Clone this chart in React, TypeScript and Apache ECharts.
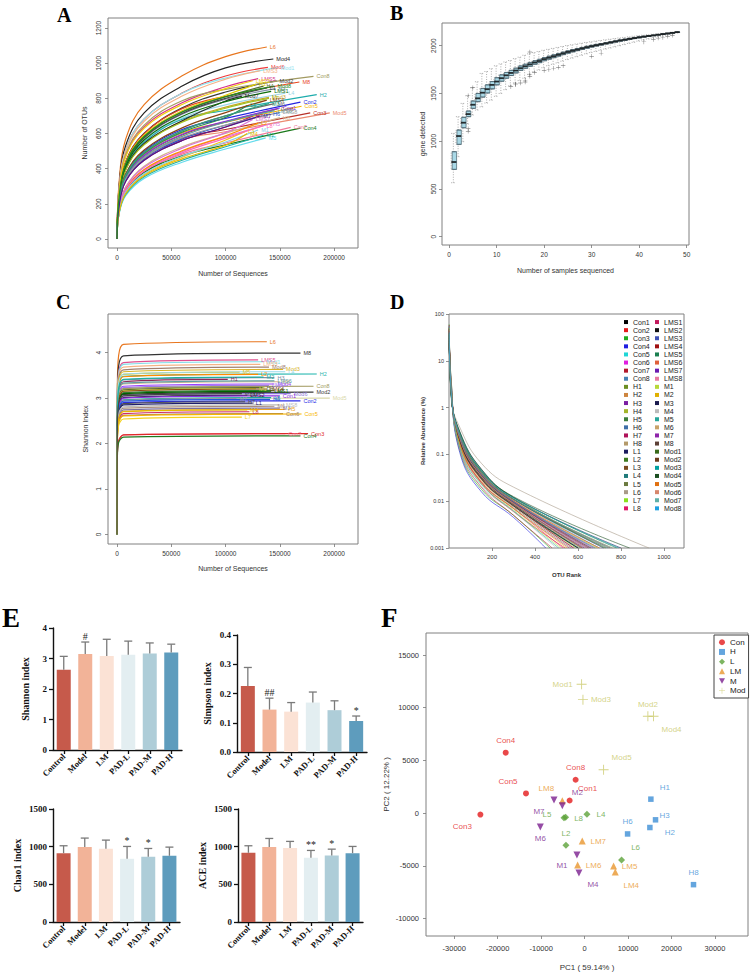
import { useEffect, useRef } from "react";
import * as echarts from "echarts";

const SANS = "'Liberation Sans', Arial, Helvetica, sans-serif";
const SERIF = "'Liberation Serif', 'Times New Roman', serif";

// ---------------- A: OTU rarefaction curves ----------------
const A_SAMPLES = ["L6", "Mod4", "Mod6", "Mod1", "LMS3", "LMS5", "Mod2", "Con8", "M8", "H3", "L4", "H2", "Mod3", "Mod7", "Con2", "Con5", "Con3", "Mod5", "H6", "Con6", "M6", "H5", "Con7", "Con4", "L3", "M5", "M2", "L7", "Con1", "H1", "H4", "H7", "H8", "L1", "L2", "L5", "L8", "LMS1", "LMS2", "LMS4", "LMS6", "LMS7", "LMS8", "M1", "M3", "M4", "M7", "Mod8"];
const A_STEPS = [2000, 8000, 25000, 60000, 100000];
const A_OTUS = [
  [328, 568, 764, 928, 1037], [307, 532, 717, 870, 973], [293, 508, 683, 830, 927], [293, 507, 683, 829, 916],
  [287, 498, 670, 813, 909], [274, 474, 638, 775, 866], [252, 440, 602, 746, 836], [278, 481, 648, 786, 851],
  [250, 438, 598, 741, 812], [239, 419, 573, 710, 795], [232, 406, 555, 688, 763], [230, 402, 550, 681, 731],
  [226, 395, 540, 669, 750], [227, 397, 543, 673, 785], [210, 366, 499, 623, 686], [204, 355, 483, 604, 665],
  [194, 337, 459, 574, 623], [194, 337, 459, 566, 610], [192, 334, 455, 569, 647], [200, 348, 474, 592, 666],
  [208, 362, 493, 616, 700], [164, 281, 392, 497, 582], [159, 273, 381, 483, 546], [158, 271, 379, 473, 536],
  [153, 263, 367, 465, 563], [144, 247, 345, 437, 512], [148, 254, 354, 448, 525], [224, 392, 536, 664, 744],
  [201, 350, 477, 596, 670], [246, 431, 590, 730, 818], [244, 426, 583, 722, 809], [189, 329, 448, 560, 637],
  [173, 297, 414, 524, 601], [241, 421, 576, 714, 800], [165, 284, 396, 502, 587], [205, 357, 486, 608, 692],
  [161, 277, 387, 490, 574], [235, 412, 563, 697, 781], [270, 468, 630, 765, 855], [213, 371, 506, 632, 719],
  [197, 343, 467, 584, 664], [170, 292, 408, 517, 605], [194, 338, 461, 576, 648], [155, 267, 372, 471, 552],
  [208, 362, 493, 616, 701], [150, 258, 360, 456, 534], [189, 329, 448, 560, 637], [244, 426, 583, 722, 809],
];
const A_LAST_SEQ = [138000, 144000, 139000, 148000, 132000, 130000, 147000, 181000, 168000, 146000, 155000, 184000, 140000, 115000, 169000, 170000, 178000, 196000, 141000, 148000, 145000, 141000, 160000, 169000, 118000, 137000, 135000, 140000, 150000, 128000, 135000, 125000, 150000, 138000, 130000, 120000, 135000, 142000, 125000, 138000, 145000, 125000, 150000, 130000, 140000, 120000, 132000, 145000];
const A_LAST_OTU = [1092, 1024, 976, 975, 957, 912, 899, 925, 893, 855, 829, 821, 806, 811, 779, 755, 717, 717, 711, 740, 770, 654, 635, 631, 612, 575, 590, 800, 745, 880, 870, 700, 690, 860, 660, 760, 645, 840, 900, 790, 730, 680, 720, 620, 770, 600, 700, 870];
const A_COLORS = ["#e8761e", "#222222", "#ef3b3b", "#8fe3f0", "#f5b287", "#d6338a", "#3a3a3a", "#a39b62", "#e8461f", "#8292a8", "#9ad6e8", "#1fadad", "#c9a227", "#2d2d2d", "#2626e0", "#f5b400", "#b8322a", "#ec8a70", "#2457d6", "#a0603a", "#6d6d6d", "#e07ad8", "#f27a9c", "#1c7a1c", "#f0c419", "#66dced", "#22b0a0", "#a3c423", "#8b2be2", "#e0cf00", "#566b2f", "#c2185b", "#d2b48c", "#474747", "#ff8c00", "#2e8b57", "#ff69b4", "#0a6e0a", "#f2cf10", "#8b4513", "#5f9ea0", "#da70d6", "#9c9c9c", "#87ceeb", "#2f9f7f", "#e6b800", "#4b1a8a", "#228b22"];

// ---------------- B: gene accumulation boxplots ----------------
// [min, Q1, median, Q3, max] for 1..48 samples
const B_STATS = [
  [565, 705, 782, 890, 1082], [838, 967, 1054, 1117, 1257], [995, 1141, 1194, 1250, 1396], [1180, 1257, 1284, 1316, 1476],
  [1274, 1344, 1382, 1421, 1560], [1326, 1414, 1449, 1500, 1623], [1360, 1462, 1508, 1553, 1710], [1400, 1505, 1545, 1590, 1730],
  [1430, 1548, 1590, 1625, 1760], [1470, 1590, 1625, 1665, 1790], [1500, 1628, 1660, 1695, 1810], [1540, 1660, 1690, 1720, 1830],
  [1580, 1688, 1715, 1742, 1845], [1610, 1715, 1740, 1765, 1865], [1635, 1742, 1765, 1788, 1880], [1660, 1764, 1785, 1806, 1900],
  [1700, 1785, 1805, 1825, 1915], [1725, 1806, 1825, 1843, 1928], [1745, 1823, 1840, 1858, 1940], [1770, 1843, 1860, 1876, 1952],
  [1790, 1859, 1875, 1890, 1962], [1805, 1875, 1890, 1905, 1972], [1820, 1891, 1905, 1919, 1982], [1838, 1907, 1920, 1933, 1992],
  [1855, 1922, 1935, 1947, 2002], [1870, 1936, 1948, 1960, 2010], [1885, 1949, 1960, 1971, 2018], [1900, 1962, 1972, 1982, 2026],
  [1915, 1974, 1984, 1994, 2034], [1928, 1986, 1995, 2004, 2041], [1940, 1997, 2005, 2014, 2048], [1952, 2007, 2015, 2023, 2055],
  [1965, 2018, 2025, 2032, 2062], [1976, 2028, 2035, 2042, 2068], [1988, 2038, 2045, 2051, 2075], [2000, 2048, 2055, 2061, 2081],
  [2012, 2057, 2063, 2069, 2087], [2024, 2066, 2072, 2077, 2093], [2036, 2075, 2080, 2085, 2099], [2048, 2083, 2088, 2093, 2105],
  [2060, 2091, 2095, 2099, 2110], [2070, 2098, 2102, 2106, 2115], [2080, 2105, 2108, 2111, 2120], [2090, 2112, 2115, 2118, 2125],
  [2100, 2119, 2122, 2125, 2130], [2110, 2125, 2128, 2131, 2135], [2120, 2132, 2135, 2137, 2140], [2135, 2140, 2142, 2144, 2146],
];
// [number of samples, genes]
const B_OUTLIERS = [
  [4, 1130], [4, 1105], [4, 1475], [5, 1560], [13, 1570], [14, 1590], [14, 1600], [15, 1610], [16, 1640], [16, 1620],
  [17, 1680], [17, 1700], [17, 1935], [18, 1720], [20, 1740], [21, 1750], [22, 1765], [23, 1775], [24, 1790], [30, 1890],
  [32, 1920], [41, 2040], [43, 2065], [44, 2080], [45, 2085], [46, 2100], [47, 2110],
];

// ---------------- C: Shannon rarefaction curves ----------------
const C_SAMPLES = ["L6", "M8", "LMS5", "Mod1", "LMS3", "Mod8", "Mod3", "M5", "H2", "H3", "H1", "Mod4", "LMS7", "Con8", "H4", "M1", "L3", "Mod2", "Mod6", "LMS2", "Mod5", "L5", "M7", "Con2", "H7", "L1", "M6", "M3", "H5", "L8", "Con6", "Con5", "L7", "Con7", "Con3", "Con4", "Con1", "H6", "H8", "L2", "L4", "LMS1", "LMS4", "LMS6", "LMS8", "M2", "M4", "Mod7"];
const C_STEPS = [300, 1500, 6000];
const C_EARLY = [
  [3.18, 3.94, 4.18], [2.99, 3.71, 3.93], [2.88, 3.57, 3.78], [2.85, 3.53, 3.74], [2.81, 3.48, 3.68], [2.76, 3.42, 3.62],
  [2.72, 3.38, 3.58], [2.68, 3.32, 3.52], [2.65, 3.28, 3.48], [2.59, 3.21, 3.40], [2.56, 3.17, 3.36], [2.48, 3.08, 3.26],
  [2.46, 3.05, 3.23], [2.45, 3.03, 3.21], [2.42, 3.00, 3.18], [2.41, 2.99, 3.16], [2.38, 2.95, 3.12], [2.35, 2.91, 3.08],
  [2.33, 2.88, 3.05], [2.30, 2.85, 3.01], [2.25, 2.79, 2.96], [2.26, 2.80, 2.96], [2.24, 2.78, 2.95], [2.21, 2.73, 2.90],
  [2.19, 2.72, 2.88], [2.17, 2.69, 2.85], [2.12, 2.62, 2.78], [2.09, 2.59, 2.74], [2.06, 2.56, 2.71], [2.03, 2.51, 2.66],
  [2.00, 2.47, 2.62], [1.99, 2.46, 2.61], [1.94, 2.40, 2.54], [1.67, 2.06, 2.19], [1.67, 2.06, 2.19], [1.63, 2.02, 2.14],
  [2.29, 2.84, 3.00], [2.23, 2.76, 2.93], [2.52, 3.12, 3.31], [2.64, 3.27, 3.47], [2.69, 3.33, 3.53], [2.36, 2.93, 3.10],
  [2.40, 2.98, 3.15], [2.54, 3.14, 3.33], [2.14, 2.65, 2.81], [2.60, 3.22, 3.41], [2.06, 2.55, 2.70], [2.33, 2.88, 3.05],
];
const C_LEVEL = [4.24, 3.99, 3.84, 3.80, 3.74, 3.68, 3.63, 3.57, 3.53, 3.45, 3.41, 3.31, 3.28, 3.26, 3.23, 3.21, 3.17, 3.13, 3.10, 3.06, 3.00, 3.01, 2.99, 2.94, 2.92, 2.89, 2.82, 2.78, 2.75, 2.70, 2.66, 2.65, 2.58, 2.22, 2.22, 2.17, 3.05, 2.97, 3.36, 3.52, 3.58, 3.15, 3.20, 3.38, 2.85, 3.46, 2.74, 3.10];
const C_LAST_SEQ = [138000, 169000, 130000, 135000, 132000, 140000, 153000, 113000, 184000, 145000, 102000, 145000, 140000, 181000, 135000, 128000, 145000, 181000, 160000, 120000, 196000, 142000, 110000, 169000, 118000, 125000, 145000, 150000, 155000, 122000, 153000, 170000, 115000, 155000, 176000, 169000, 150000, 141000, 150000, 130000, 155000, 142000, 138000, 145000, 150000, 135000, 120000, 115000];
const C_COLORS = ["#e8761e", "#333333", "#e0508f", "#7fdde8", "#f4b486", "#a08070", "#d8b428", "#e3c52a", "#1fb5ad", "#8090a8", "#8b2d5a", "#9a3dfc", "#9e7af0", "#a39b62", "#5a6b2f", "#c6d83a", "#3a7d3a", "#3a3a3a", "#8d79d9", "#222222", "#d9d7a8", "#1fa39a", "#9a9a9a", "#2b2be6", "#4d4d4d", "#1f1f6e", "#a88c7a", "#7a6fa0", "#eaa020", "#cc2a6b", "#9b7a5b", "#f7b500", "#f5d21f", "#f27da0", "#e02a2a", "#1f7a1f", "#8a2be2", "#2255dd", "#d2b48c", "#ff8c00", "#9ad9ea", "#006400", "#8b4513", "#5f9ea0", "#bbbbbb", "#20b0a0", "#e6b800", "#444444"];

// ---------------- D: rank abundance ----------------
const D_SAMPLES = ["Con1", "Con2", "Con3", "Con4", "Con5", "Con6", "Con7", "Con8", "H1", "H2", "H3", "H4", "H5", "H6", "H7", "H8", "L1", "L2", "L3", "L4", "L5", "L6", "L7", "L8", "LMS1", "LMS2", "LMS3", "LMS4", "LMS5", "LMS6", "LMS7", "LMS8", "M1", "M2", "M3", "M4", "M5", "M6", "M7", "M8", "Mod1", "Mod2", "Mod3", "Mod4", "Mod5", "Mod6", "Mod7", "Mod8"];
const D_RANKS = [1, 10, 50, 150, 300];
const D_ABUND = [
  [45, 2.5, 0.22, 0.035, 0.009], [50, 3.0, 0.18, 0.025, 0.006], [60, 4.0, 0.12, 0.018, 0.005], [55, 3.5, 0.11, 0.016, 0.0045],
  [40, 2.2, 0.25, 0.04, 0.011], [48, 2.8, 0.2, 0.03, 0.008], [58, 3.8, 0.13, 0.02, 0.005], [42, 2.4, 0.24, 0.038, 0.01],
  [38, 2.0, 0.27, 0.045, 0.012], [40, 2.2, 0.26, 0.042, 0.011], [44, 2.5, 0.23, 0.036, 0.0095], [41, 2.3, 0.25, 0.04, 0.01],
  [46, 2.6, 0.21, 0.033, 0.0085], [43, 2.4, 0.24, 0.037, 0.0095], [50, 3.0, 0.17, 0.026, 0.007], [44, 2.5, 0.22, 0.035, 0.009],
  [37, 2.0, 0.3, 0.048, 0.012], [47, 2.7, 0.2, 0.031, 0.008], [45, 2.6, 0.22, 0.034, 0.009], [39, 2.1, 0.27, 0.043, 0.011],
  [49, 2.9, 0.18, 0.029, 0.0075], [30, 1.6, 0.38, 0.065, 0.02], [47, 2.7, 0.2, 0.031, 0.008], [51, 3.1, 0.16, 0.025, 0.007],
  [43, 2.4, 0.23, 0.036, 0.0095], [46, 2.6, 0.21, 0.033, 0.0085], [40, 2.2, 0.26, 0.041, 0.011], [48, 2.8, 0.2, 0.03, 0.008],
  [38, 2.0, 0.28, 0.045, 0.012], [42, 2.3, 0.24, 0.039, 0.01], [45, 2.5, 0.22, 0.035, 0.009], [41, 2.3, 0.25, 0.04, 0.0105],
  [52, 3.2, 0.15, 0.024, 0.0065], [50, 3.0, 0.17, 0.027, 0.007], [47, 2.7, 0.2, 0.031, 0.008], [55, 3.4, 0.13, 0.021, 0.006],
  [53, 3.3, 0.14, 0.023, 0.0062], [44, 2.5, 0.22, 0.035, 0.009], [42, 2.3, 0.24, 0.038, 0.01], [39, 2.1, 0.27, 0.043, 0.0112],
  [40, 2.2, 0.26, 0.041, 0.0108], [43, 2.4, 0.23, 0.037, 0.0096], [38, 2.0, 0.29, 0.046, 0.0118], [36, 1.9, 0.31, 0.049, 0.0125],
  [41, 2.3, 0.25, 0.039, 0.0102], [45, 2.6, 0.22, 0.034, 0.0088], [39, 2.1, 0.27, 0.042, 0.011], [42, 2.4, 0.24, 0.038, 0.0098],
];
const D_LAST_RANK = [620, 540, 470, 450, 700, 580, 480, 660, 720, 760, 640, 690, 610, 650, 560, 630, 800, 600, 620, 740, 570, 930, 590, 530, 650, 600, 720, 580, 780, 680, 630, 700, 520, 550, 600, 500, 510, 640, 670, 750, 730, 660, 790, 840, 700, 620, 760, 680];
const D_COLORS = ["#000000", "#e41a1c", "#1faa1f", "#1f1fe0", "#1fd6d6", "#e01fe0", "#b2182b", "#4682b4", "#6b8e23", "#cd853f", "#7b1fa2", "#a3b52b", "#3b7d3b", "#3f6fa8", "#b0135a", "#b49a6a", "#1a1a5e", "#3d7a1f", "#7a4a1f", "#1f7a7a", "#6b7a3f", "#a89a88", "#8ae01f", "#e0186a", "#c2185b", "#111111", "#3f51b5", "#a01010", "#1b7f4f", "#e0603a", "#6a1bb0", "#e87aa0", "#b8d838", "#e0b000", "#1a1a4e", "#bbbbbb", "#26a69a", "#c8a26a", "#8e24aa", "#5d4037", "#3a6a1a", "#6d3b1b", "#00a0a0", "#1b4e20", "#e07010", "#d7866b", "#5fb0a8", "#1fa0e0"];

// ---------------- E: alpha diversity indices ----------------
const E_GROUPS = ["Control", "Model", "LM", "PAD-L", "PAD-M", "PAD-H"];
const SHANNON_MEAN = [2.63, 3.15, 3.08, 3.12, 3.16, 3.2];
const SHANNON_SD = [0.44, 0.39, 0.55, 0.45, 0.35, 0.27];
const SHANNON_MARK = ["", "#", "", "", "", ""];
const SIMPSON_MEAN = [0.226, 0.145, 0.138, 0.169, 0.143, 0.106];
const SIMPSON_SD = [0.063, 0.039, 0.031, 0.036, 0.032, 0.017];
const SIMPSON_MARK = ["", "##", "", "", "", "*"];
const CHAO1_MEAN = [914, 994, 972, 839, 865, 879];
const CHAO1_SD = [98, 120, 115, 164, 111, 115];
const CHAO1_MARK = ["", "", "", "*", "*", ""];
const ACE_MEAN = [919, 994, 981, 852, 883, 914];
const ACE_SD = [93, 115, 89, 98, 84, 89];
const ACE_MARK = ["", "", "", "**", "*", ""];
const E_COLORS = ["#c65a4b", "#f2b398", "#fbe2d5", "#e3eef1", "#aecdd8", "#5e9cbd"];

// ---------------- F: PCA ----------------
// [sample, PC1, PC2]
const F_CON = [["Con4", -18160, 5735], ["Con5", -13490, 1870], ["Con3", -23985, -130], ["Con8", -2070, 3170], ["Con1", -3450, 1200]];
const F_H = [["H1", 15250, 1330], ["H3", 16320, -630], ["H2", 15020, -1360], ["H6", 9890, -1970], ["H8", 25060, -6780]];
const F_L = [["L5", -4750, -440], ["L8", -4370, -380], ["L4", 540, -100], ["L2", -4290, -3040], ["L6", 8510, -4440]];
const F_LM = [["LM8", -5130, 1170], ["LM7", -540, -2630], ["LM6", -1610, -4910], ["LM5", 6670, -5010], ["LM4", 7050, -5580]];
const F_M = [["M2", -5130, 700], ["M7", -7050, 1240], ["M6", -10190, -1300], ["M1", -1760, -3960], ["M4", -1300, -5670]];
const F_MOD = [["Mod1", -690, 12230], ["Mod3", -380, 10770], ["Mod2", 14560, 9190], ["Mod4", 15860, 9190], ["Mod5", 4370, 4120]];

// where each sample name sits relative to its marker (px)
const F_LABEL_SHIFT: Record<string, number[]> = {
  Con4: [0, -12], Con5: [-18, -12], Con3: [-18, 12], Con8: [0, -12], Con1: [18, -12],
  H1: [14, -12], H3: [9, -4], H2: [20, 5], H6: [0, -12], H8: [0, -12],
  L5: [-17, -3], L8: [13, 1], L4: [14, 0], L2: [0, -12], L6: [14, -12],
  LM8: [-16, -12], LM7: [16, 1], LM6: [16, 1], LM5: [16, 1], LM4: [16, 13],
  M2: [15, -13], M7: [-15, 11], M6: [0, 12], M1: [-15, 11], M4: [14, 12],
  Mod1: [-19, 0], Mod3: [18, 0], Mod2: [0, -12], Mod4: [18, 13], Mod5: [18, -12],
};

const PLUS = "path://M0,4.55H10V5.45H0Z M4.55,0H5.45V10H4.55Z";
const DOWN_TRI = "path://M0,0L10,0L5,9Z";

const str = (v: number) => String(v);

function rAxis(o: any) {
  const {
    gridIndex, min, max, ticks, name, nameGap, rotate = 0, fontSize = 6.5,
    nameSize = 7, bold = false, margin = 6, type = "value", formatter = str,
  } = o;
  return {
    type, gridIndex, min, max, name, nameLocation: "middle", nameGap,
    nameTextStyle: { fontFamily: SANS, fontSize: nameSize, color: "#333", fontWeight: bold ? "bold" : "normal" },
    axisLine: { show: false, onZero: false },
    splitLine: { show: false },
    axisTick: { show: true, customValues: ticks, length: 3, lineStyle: { color: "#777", width: 0.8 } },
    axisLabel: { customValues: ticks, fontFamily: SANS, fontSize, color: "#333", margin, rotate, formatter },
  };
}

function barX(gridIndex: number) {
  return {
    type: "category", gridIndex, data: E_GROUPS,
    axisLine: { show: true, lineStyle: { color: "#111", width: 1.4 } },
    axisTick: { show: true, alignWithLabel: true, length: 4, lineStyle: { color: "#111", width: 1.3 } },
    axisLabel: { rotate: 45, interval: 0, fontFamily: SERIF, fontWeight: "bold", fontSize: 8.5, color: "#111", margin: 5 },
  };
}

function barY(gridIndex: number, max: number, interval: number, name: string, nameGap: number, digits: number) {
  return {
    type: "value", gridIndex, min: 0, max, interval, name, nameLocation: "middle", nameGap,
    nameTextStyle: { fontFamily: SERIF, fontWeight: "bold", fontSize: 10, color: "#111" },
    axisLine: { show: true, lineStyle: { color: "#111", width: 1.4 } },
    axisTick: { show: true, length: 4, lineStyle: { color: "#111", width: 1.3 } },
    splitLine: { show: false },
    axisLabel: {
      fontFamily: SERIF, fontWeight: "bold", fontSize: 9, color: "#111", margin: 6,
      formatter: (v: number) => v.toFixed(digits),
    },
  };
}

function barSeries(axis: number, means: number[], sds: number[], marks: string[]) {
  return [
    {
      type: "bar", xAxisIndex: axis, yAxisIndex: axis, barWidth: 14, silent: true,
      data: means.map((v, i) => ({ value: v, itemStyle: { color: E_COLORS[i] } })),
    },
    {
      type: "custom", xAxisIndex: axis, yAxisIndex: axis, z: 4, silent: true,
      data: means.map((m, i) => [i, m, sds[i]]),
      renderItem: (params: any, api: any) => {
        const i = api.value(0);
        const m = api.value(1);
        const sd = api.value(2);
        const base = api.coord([i, m]);
        const top = api.coord([i, m + sd]);
        const stroke = { stroke: "#7a7a7a", lineWidth: 1.3 };
        const children: any[] = [
          { type: "line", shape: { x1: base[0], y1: base[1], x2: top[0], y2: top[1] }, style: stroke },
          { type: "line", shape: { x1: top[0] - 4, y1: top[1], x2: top[0] + 4, y2: top[1] }, style: stroke },
        ];
        const mark = marks[params.dataIndex];
        if (mark) {
          children.push({
            type: "text",
            style: {
              text: mark, x: top[0], y: top[1] - 1, align: "center", verticalAlign: "bottom",
              fontSize: 10, fontFamily: SERIF, fill: "#222",
            },
          });
        }
        return { type: "group", children };
      },
    },
  ];
}

function pcaSeries(name: string, points: any[], color: string, symbol: string, size: number) {
  return {
    type: "scatter", name, xAxisIndex: 8, yAxisIndex: 8, symbol, symbolSize: size,
    itemStyle: { color }, silent: true,
    label: { show: true, position: "inside", formatter: "{b}", color, fontFamily: SANS, fontSize: 8 },
    data: points.map((p) => ({ name: p[0], value: [p[1], p[2]], label: { offset: F_LABEL_SHIFT[p[0]] || [0, -12] } })),
  };
}

function buildOption() {
  const bCats = Array.from({ length: 52 }, (_, k) => String(k - 1));
  const everyTen = (_: number, v: string) => Number(v) % 10 === 0;

  const aSeries = A_SAMPLES.map((name, i) => ({
    type: "line", name: "A " + name, xAxisIndex: 0, yAxisIndex: 0, silent: true,
    symbol: "none", smooth: 0.4,
    lineStyle: { width: 1.2, color: A_COLORS[i] }, itemStyle: { color: A_COLORS[i] },
    data: [[0, 0], ...A_STEPS.map((x, k) => [x, A_OTUS[i][k]]), [A_LAST_SEQ[i], A_LAST_OTU[i]]],
    endLabel: { show: true, formatter: name, color: A_COLORS[i], fontSize: 5.5, fontFamily: SANS, distance: 3 },
  }));

  const cSeries = C_SAMPLES.map((name, i) => ({
    type: "line", name: "C " + name, xAxisIndex: 2, yAxisIndex: 2, silent: true,
    symbol: "none", smooth: 0.3,
    lineStyle: { width: 1.2, color: C_COLORS[i] }, itemStyle: { color: C_COLORS[i] },
    data: [[0, 0], ...C_STEPS.map((x, k) => [x, C_EARLY[i][k]]), [C_LAST_SEQ[i], C_LEVEL[i]]],
    endLabel: { show: true, formatter: name, color: C_COLORS[i], fontSize: 5.5, fontFamily: SANS, distance: 3 },
  }));

  const dSeries = D_SAMPLES.map((name, i) => ({
    type: "line", name, xAxisIndex: 3, yAxisIndex: 3, silent: true, symbol: "none", smooth: 0.45,
    lineStyle: { width: 0.7, color: D_COLORS[i], opacity: 0.85 }, itemStyle: { color: D_COLORS[i] },
    data: [...D_RANKS.map((r, k) => [r, D_ABUND[i][k]]), [D_LAST_RANK[i], 0.001]],
  }));

  const bSeries = [
    {
      type: "boxplot", xAxisIndex: 1, yAxisIndex: 1, silent: true, boxWidth: [4.4, 4.4],
      encode: { x: 0, y: [1, 2, 3, 4, 5] },
      itemStyle: { color: "rgba(0,0,0,0)", borderColor: "#8a8a8a", borderWidth: 0.7, borderType: [1, 1.5] },
      data: B_STATS.map((s, i) => [i + 2, ...s]),
    },
    {
      type: "boxplot", xAxisIndex: 1, yAxisIndex: 1, silent: true, boxWidth: [4.4, 4.4],
      encode: { x: 0, y: [1, 2, 3, 4, 5] },
      itemStyle: { color: "#a9d8e6", borderColor: "#4a6470", borderWidth: 0.7 },
      data: B_STATS.map((s, i) => [i + 2, s[1], s[1], s[2], s[3], s[3]]),
    },
    {
      type: "scatter", xAxisIndex: 1, yAxisIndex: 1, silent: true, symbol: "rect", symbolSize: [5, 1.8],
      itemStyle: { color: "#111" }, data: B_STATS.map((s, i) => [i + 2, s[2]]),
    },
    {
      type: "scatter", xAxisIndex: 1, yAxisIndex: 1, silent: true, symbol: PLUS, symbolSize: 4.5,
      itemStyle: { color: "#333" }, data: B_OUTLIERS.map(([n, v]) => [n + 1, v]),
    },
  ];

  const letter = (t: string, x: number, y: number, size: number) => ({
    type: "text", x, y, silent: true,
    style: { text: t, fontFamily: SERIF, fontWeight: "bold", fontSize: size, fill: "#000", verticalAlign: "top" },
  });

  const legendText = { fontFamily: SANS, fontSize: 7, color: "#222", lineHeight: 8.1 };

  return {
    animation: false,
    backgroundColor: "#fff",
    grid: [
      { left: 108, top: 18, width: 250, height: 230, show: true, borderColor: "#808080", borderWidth: 1 },
      { left: 442, top: 23, width: 247, height: 222, show: true, borderColor: "#808080", borderWidth: 1 },
      { left: 108, top: 314, width: 250, height: 230, show: true, borderColor: "#808080", borderWidth: 1 },
      { left: 449, top: 314, width: 235, height: 234, show: true, borderColor: "#808080", borderWidth: 1 },
      { left: 53, top: 628, width: 129, height: 122 },
      { left: 237, top: 635, width: 130, height: 117 },
      { left: 53, top: 809, width: 127, height: 113 },
      { left: 238, top: 809, width: 125, height: 113 },
      { left: 426, top: 633, width: 322, height: 303, show: true, borderColor: "#808080", borderWidth: 1 },
    ],
    xAxis: [
      rAxis({ gridIndex: 0, min: -8300, max: 222000, ticks: [0, 50000, 100000, 150000, 200000], name: "Number of Sequences", nameGap: 22 }),
      {
        type: "category", gridIndex: 1, data: bCats, boundaryGap: true,
        name: "Number of samples sequenced", nameLocation: "middle", nameGap: 22,
        nameTextStyle: { fontFamily: SANS, fontSize: 7, color: "#333" },
        axisLine: { show: false, onZero: false },
        axisTick: { show: true, interval: everyTen, alignWithLabel: true, length: 3, lineStyle: { color: "#777", width: 0.8 } },
        axisLabel: { interval: everyTen, fontFamily: SANS, fontSize: 6.5, color: "#333", margin: 6 },
      },
      rAxis({ gridIndex: 2, min: -8300, max: 222000, ticks: [0, 50000, 100000, 150000, 200000], name: "Number of Sequences", nameGap: 21 }),
      rAxis({ gridIndex: 3, min: 0, max: 1093, ticks: [200, 400, 600, 800, 1000], name: "OTU Rank", nameGap: 24, fontSize: 6, nameSize: 6, bold: true }),
      barX(4), barX(5), barX(6), barX(7),
      rAxis({ gridIndex: 8, min: -36500, max: 37600, ticks: [-30000, -20000, -10000, 0, 10000, 20000, 30000], name: "PC1 ( 59.14% )", nameGap: 27, fontSize: 7.5, nameSize: 8, margin: 8 }),
    ],
    yAxis: [
      rAxis({ gridIndex: 0, min: -51, max: 1257, ticks: [0, 200, 400, 600, 800, 1000, 1200], name: "Number of OTUs", nameGap: 20, rotate: 90, margin: 6 }),
      rAxis({ gridIndex: 1, min: -87, max: 2238, ticks: [0, 500, 1000, 1500, 2000], name: "gene detected", nameGap: 16, rotate: 90, margin: 5 }),
      rAxis({ gridIndex: 2, min: -0.21, max: 4.85, ticks: [0, 1, 2, 3, 4], name: "Shannon Index", nameGap: 19, rotate: 90, margin: 6 }),
      {
        ...rAxis({ gridIndex: 3, min: 0.001, max: 100, ticks: [0.001, 0.01, 0.1, 1, 10, 100], name: "Relative Abundance (%)", nameGap: 21, fontSize: 5.5, nameSize: 6, bold: true, margin: 5, formatter: (v: number) => String(Number(v.toPrecision(3))) }),
        type: "log", logBase: 10,
      },
      barY(4, 4, 1, "Shannon index", 23, 0),
      barY(5, 0.4, 0.1, "Simpson index", 25, 1),
      barY(6, 1500, 500, "Chao1 index", 31, 0),
      barY(7, 1500, 500, "ACE index", 31, 0),
      rAxis({ gridIndex: 8, min: -11650, max: 17090, ticks: [-10000, -5000, 0, 5000, 10000, 15000], name: "PC2 ( 12.22% )", nameGap: 36, fontSize: 7.5, nameSize: 8, margin: 7 }),
    ],
    legend: [
      {
        data: D_SAMPLES.slice(0, 24), orient: "vertical", left: 624, top: 318, icon: "rect",
        itemWidth: 4, itemHeight: 4, itemGap: 0, padding: 0, selectedMode: false, textStyle: legendText,
      },
      {
        data: D_SAMPLES.slice(24), orient: "vertical", left: 655, top: 318, icon: "rect",
        itemWidth: 4, itemHeight: 4, itemGap: 0, padding: 0, selectedMode: false, textStyle: legendText,
      },
      {
        data: ["Con", "H", "L", "LM", "M", "Mod"], orient: "vertical", left: 714, top: 635,
        itemWidth: 6, itemHeight: 6, itemGap: 1.2, padding: [3, 3, 3, 5], selectedMode: false,
        borderColor: "#444", borderWidth: 1, backgroundColor: "#fff",
        textStyle: { fontFamily: SANS, fontSize: 8, color: "#222", lineHeight: 8.5 },
      },
    ],
    graphic: [
      letter("A", 57, 5, 20), letter("B", 390, 3, 20), letter("C", 56, 292, 20), letter("D", 390, 292, 20),
      letter("E", 2, 604, 27), letter("F", 381, 604, 27),
    ],
    series: [
      ...aSeries,
      ...bSeries,
      ...cSeries,
      ...dSeries,
      ...barSeries(4, SHANNON_MEAN, SHANNON_SD, SHANNON_MARK),
      ...barSeries(5, SIMPSON_MEAN, SIMPSON_SD, SIMPSON_MARK),
      ...barSeries(6, CHAO1_MEAN, CHAO1_SD, CHAO1_MARK),
      ...barSeries(7, ACE_MEAN, ACE_SD, ACE_MARK),
      pcaSeries("Con", F_CON, "#e31a1c", "circle", 6),
      pcaSeries("H", F_H, "#3d8fd6", "rect", 5.5),
      pcaSeries("L", F_L, "#5da23a", "diamond", 7),
      pcaSeries("LM", F_LM, "#e8962e", "triangle", 7),
      pcaSeries("M", F_M, "#7a1f8f", DOWN_TRI, 7),
      pcaSeries("Mod", F_MOD, "#c9c867", PLUS, 10),
    ],
  };
}

export default function App() {
  const ref = useRef<HTMLDivElement>(null);
  useEffect(() => {
    if (!ref.current) return;
    const chart = echarts.init(ref.current, undefined, { renderer: "svg" });
    chart.setOption(buildOption() as any);
    return () => chart.dispose();
  }, []);
  return (
    <div
      ref={ref}
      style={{ position: "absolute", left: 0, top: 0, width: 751, height: 979, background: "#fff" }}
    />
  );
}
